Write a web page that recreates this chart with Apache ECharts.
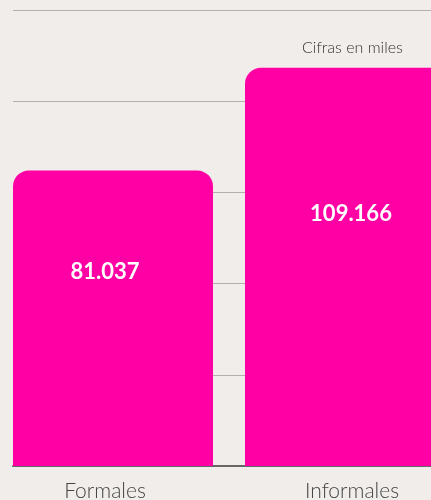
<!DOCTYPE html>
<html>
<head>
<meta charset="utf-8">
<script src="https://cdn.jsdelivr.net/npm/echarts@6/dist/echarts.min.js"></script>
<style>
  html, body { margin: 0; padding: 0; background: #f0edea; }
  #mychart { width: 431px; height: 500px; }
</style>
</head>
<body>
<div id="mychart"></div>
<script>
let categories = ['Formales', 'Informales']
let values = [81.037, 109.166]
let yTicks = [0, 25, 50, 75, 100, 125]

// small nudges so text sits where the original put it
let labelOffsets = [[-8, -46], [6, -53]]
let catPads = [[0, 16, 0, 0], [0, 0, 0, 14]]

let myChart = echarts.init(document.getElementById('mychart'))

let yMax = yTicks[yTicks.length - 1]
let yStep = yTicks[1] - yTicks[0]

let barData = values.map((v, i) => ({
    value: v,
    label: { offset: labelOffsets[i] }
}))

let rich = {}
categories.forEach((c, i) => {
    rich['c' + i] = { padding: catPads[i], fontFamily: 'Lato', fontWeight: 300, fontSize: 21, color: '#444' }
})

let option = {
    backgroundColor: '#f0edea',
    animation: false,
    title: {
        text: 'Cifras en miles',
        left: 297,
        top: 35,
        textStyle: { fontFamily: 'Lato', fontWeight: 300, fontSize: 16, color: '#333' }
    },
    grid: [
        // gridlines + baseline
        { left: 13, right: -46, top: 10, bottom: 34, outerBoundsMode: 'none', containLabel: false },
        // bars
        { left: -3, right: -30, top: 10, bottom: 34, outerBoundsMode: 'none', containLabel: false }
    ],
    xAxis: [
        {
            gridIndex: 0, type: 'category', data: categories,
            axisLine: { show: true, lineStyle: { color: '#666', width: 2 } },
            axisTick: { show: false }, axisLabel: { show: false }
        },
        {
            gridIndex: 1, type: 'category', data: categories,
            axisLine: { show: false }, axisTick: { show: false },
            axisLabel: {
                margin: 15,
                formatter: (v, i) => '{c' + i + '|' + v + '}',
                rich: rich
            }
        }
    ],
    yAxis: [
        {
            gridIndex: 0, type: 'value', min: 0, max: yMax, interval: yStep,
            axisLabel: { show: false }, axisLine: { show: false }, axisTick: { show: false },
            splitLine: { lineStyle: { color: '#b3afab', width: 1 } }
        },
        {
            gridIndex: 1, type: 'value', min: 0, max: yMax, interval: yStep,
            show: false, splitLine: { show: false }
        }
    ],
    series: [{
        type: 'bar',
        xAxisIndex: 1,
        yAxisIndex: 1,
        data: barData,
        barWidth: 200,
        z: 3,
        itemStyle: { color: '#ff00a5', borderRadius: [16, 16, 0, 0] },
        label: {
            show: true,
            position: 'inside',
            formatter: p => p.value.toFixed(3),
            fontFamily: 'Lato', fontWeight: 'bold', fontSize: 22, color: '#fff'
        }
    }]
}
myChart.setOption(option)
</script>
</body>
</html>
